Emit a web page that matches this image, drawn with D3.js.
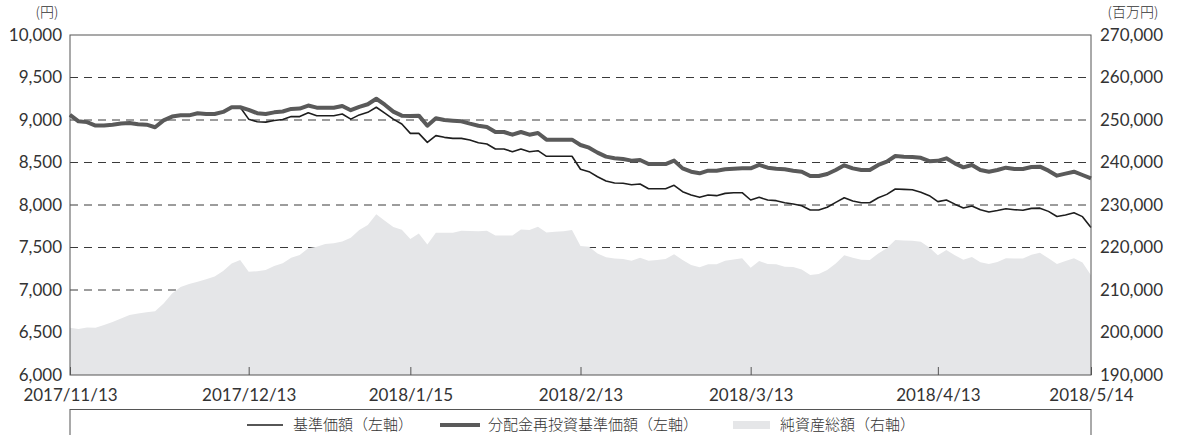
<!DOCTYPE html>
<html>
<head>
<meta charset="utf-8">
<script src="https://cdn.jsdelivr.net/npm/d3@7"></script>
<style>
  body { margin: 0; background: #fff; }
  svg text { font-family: "Noto Sans CJK JP", "Noto Sans", sans-serif; font-weight: 300; fill: #333; }
  svg .tick text { font-family: Lato, "Noto Sans", sans-serif; font-weight: 400; }
</style>
</head>
<body>
<svg id="chart" width="1178" height="435"></svg>
<script>
// business-day index of each labelled date (121 points, 2017/11/13 .. 2018/5/14)
var xTickIdx    = [0, 21, 40, 60, 80, 102, 120];
var xTickLabels = ["2017/11/13", "2017/12/13", "2018/1/15", "2018/2/13", "2018/3/13", "2018/4/13", "2018/5/14"];
var leftTicks   = [6000, 6500, 7000, 7500, 8000, 8500, 9000, 9500, 10000];
var rightTicks  = [190000, 200000, 210000, 220000, 230000, 240000, 250000, 260000, 270000];

// 基準価額 (yen)
var nav = [
  9060, 8985, 8975, 8935, 8935, 8945, 8960, 8965, 8950, 8945, 8915, 8995, 9040, 9055, 9055, 9080, 9070, 9070, 9095, 9150, 9150,
  9010, 8980, 8975, 8995, 9005, 9040, 9040, 9085, 9050, 9050, 9050, 9070, 9010, 9060, 9090, 9150, 9080, 9010, 8953, 8843,
  8843, 8737, 8816, 8796, 8784, 8784, 8765, 8733, 8718, 8659, 8659, 8627, 8659, 8627, 8639, 8573, 8573, 8573, 8573, 8420,
  8392, 8333, 8282, 8259, 8255, 8239, 8247, 8192, 8192, 8192, 8231, 8157, 8118, 8090, 8118, 8110, 8137, 8145, 8145, 8059,
  8090, 8059, 8051, 8027, 8012, 7992, 7941, 7941, 7973, 8031, 8086, 8047, 8027, 8027, 8086, 8125, 8188, 8184, 8180,
  8150, 8110, 8040, 8059, 8010, 7965, 7989, 7945, 7918, 7935, 7955, 7945, 7938, 7960, 7963, 7925, 7865, 7883, 7908, 7863, 7735
];

// 分配金再投資基準価額 (yen)
var navReinvest = [
  9060, 8985, 8975, 8935, 8935, 8945, 8960, 8965, 8950, 8945, 8915, 8995, 9040, 9055, 9055, 9080, 9070, 9070, 9095, 9150, 9150,
  9120, 9080, 9070, 9090, 9100, 9130, 9135, 9170, 9145, 9145, 9145, 9165, 9115, 9155, 9185, 9250, 9180, 9098, 9051, 9047,
  9051, 8933, 9020, 9000, 8992, 8984, 8957, 8933, 8918, 8859, 8859, 8827, 8859, 8827, 8847, 8769, 8769, 8769, 8769, 8706,
  8674, 8616, 8569, 8549, 8541, 8522, 8529, 8482, 8482, 8482, 8522, 8431, 8392, 8373, 8404, 8404, 8420, 8427, 8431, 8431,
  8471, 8439, 8427, 8420, 8404, 8392, 8341, 8341, 8365, 8412, 8467, 8431, 8412, 8412, 8471, 8510, 8576, 8569, 8565,
  8555, 8515, 8520, 8549, 8490, 8443, 8471, 8412, 8392, 8412, 8439, 8424, 8424, 8447, 8451, 8404, 8345, 8369, 8392, 8353, 8314
];

// 純資産総額 (million yen)
var netAssets = [
  201100, 200850, 201200, 201100, 201750, 202500, 203300, 204100, 204500, 204750, 205000, 206850, 209200, 210700, 211400, 211950, 212550, 213150, 214500, 216250, 217050,
  214300, 214400, 214700, 215650, 216300, 217600, 218250, 219800, 220200, 220800, 221000, 221400, 222300, 224100, 225300, 227800, 226300, 224800, 224200, 222000,
  223300, 220700, 223500, 223500, 223500, 223950, 223900, 223800, 223950, 222800, 222800, 222800, 224250, 224100, 224900, 223550, 223700, 223850, 224100, 220350,
  220200, 218600, 217700, 217400, 217300, 216900, 217600, 216900, 217050, 217300, 218400, 217050, 215900, 215350, 216050, 216050, 216900, 217200, 217450, 215250,
  216800, 216100, 216050, 215500, 215400, 214800, 213550, 213750, 214700, 216250, 218200, 217600, 217100, 217050, 218600, 219800, 221750, 221650, 221600,
  221350, 220000, 218150, 219400, 218150, 217100, 217750, 216550, 216100, 216600, 217450, 217400, 217400, 218300, 218750, 217450, 216100, 216800, 217500, 216450, 213500
];

var legendNames = ["基準価額（左軸）", "分配金再投資基準価額（左軸）", "純資産総額（右軸）"];

var margin = {left: 70, right: 87, top: 35, bottom: 60},
    width  = 1178 - margin.left - margin.right,
    height = 435 - margin.top - margin.bottom;

var svg = d3.select("#chart");
var g   = svg.append("g").attr("transform", "translate(" + margin.left + "," + margin.top + ")");

var x      = d3.scaleLinear().domain([0, nav.length - 1]).range([0, width]);
var yLeft  = d3.scaleLinear().domain([6000, 10000]).range([height, 0]);
var yRight = d3.scaleLinear().domain([190000, 270000]).range([height, 0]);

// dashed grid
g.append("g")
  .selectAll("line")
  .data(leftTicks.slice(1, -1))
  .enter()
  .append("line")
  .attr("x1", 0).attr("x2", width)
  .attr("y1", function(d) { return yLeft(d); })
  .attr("y2", function(d) { return yLeft(d); })
  .attr("stroke", "#3a3a3a")
  .attr("stroke-width", 1)
  .attr("stroke-dasharray", "8,6");

// net assets area
var area = d3.area()
  .x(function(d, i) { return x(i); })
  .y0(height)
  .y1(function(d) { return yRight(d); });

g.append("path")
  .datum(netAssets)
  .attr("d", area)
  .attr("fill", "#e5e6e8");

var line = d3.line()
  .x(function(d, i) { return x(i); })
  .y(function(d) { return yLeft(d); });

g.append("path")
  .datum(nav)
  .attr("d", line)
  .attr("fill", "none")
  .attr("stroke", "#1e1e1e")
  .attr("stroke-width", 1.6)
  .attr("stroke-linejoin", "round");

g.append("path")
  .datum(navReinvest)
  .attr("d", line)
  .attr("fill", "none")
  .attr("stroke", "#5a5a5a")
  .attr("stroke-width", 4)
  .attr("stroke-linejoin", "round");

// frame
g.append("rect")
  .attr("width", width).attr("height", height)
  .attr("fill", "none")
  .attr("stroke", "#555")
  .attr("stroke-width", 1);

// axes
var axisLeft = g.append("g")
  .call(d3.axisLeft(yLeft).tickValues(leftTicks).tickFormat(d3.format(",")).tickSize(0).tickPadding(8));

var axisRight = g.append("g")
  .attr("transform", "translate(" + width + ",0)")
  .call(d3.axisRight(yRight).tickValues(rightTicks).tickFormat(d3.format(",")).tickSize(0).tickPadding(9));

var axisBottom = g.append("g")
  .attr("transform", "translate(0," + height + ")")
  .call(d3.axisBottom(x).tickValues(xTickIdx)
    .tickFormat(function(d, i) { return xTickLabels[i]; })
    .tickSizeInner(-8).tickSizeOuter(0).tickPadding(14));

[axisLeft, axisRight, axisBottom].forEach(function(a) {
  a.select(".domain").remove();
  a.selectAll("text").attr("font-size", 17).attr("fill", "#333").style("font-family", null);
  a.selectAll("line").attr("stroke", "#555");
});

// unit labels
svg.append("text").attr("x", 47).attr("y", 17).attr("text-anchor", "middle")
  .attr("font-size", 14).text("(円)");
svg.append("text").attr("x", 1133).attr("y", 17).attr("text-anchor", "middle")
  .attr("font-size", 14).text("(百万円)");

// legend
var lg = svg.append("g");
lg.append("rect")
  .attr("x", margin.left).attr("y", 409.5)
  .attr("width", width).attr("height", 40)
  .attr("fill", "none").attr("stroke", "#555");

var ly = 425;
lg.append("line").attr("x1", 247).attr("x2", 283).attr("y1", ly).attr("y2", ly)
  .attr("stroke", "#1e1e1e").attr("stroke-width", 1.6);
lg.append("text").attr("x", 293).attr("y", ly).attr("dy", "0.35em").attr("font-size", 15).text(legendNames[0]);

lg.append("line").attr("x1", 440).attr("x2", 480).attr("y1", ly).attr("y2", ly)
  .attr("stroke", "#5a5a5a").attr("stroke-width", 4);
lg.append("text").attr("x", 488).attr("y", ly).attr("dy", "0.35em").attr("font-size", 15).text(legendNames[1]);

lg.append("rect").attr("x", 733).attr("y", ly - 4).attr("width", 37).attr("height", 8)
  .attr("fill", "#e5e6e8");
lg.append("text").attr("x", 780).attr("y", ly).attr("dy", "0.35em").attr("font-size", 15).text(legendNames[2]);
</script>
</body>
</html>
